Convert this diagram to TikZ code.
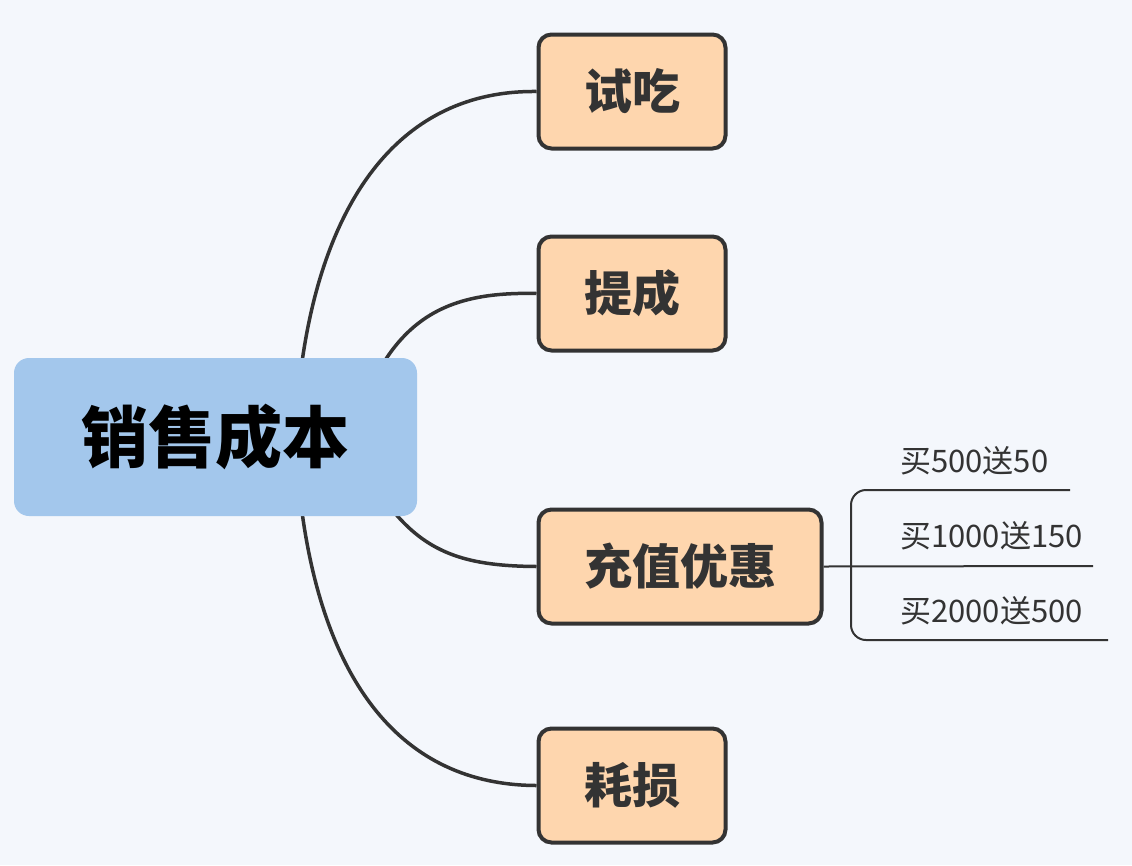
\documentclass[tikz,border=0pt]{standalone}
\usepackage{fontspec}
\usetikzlibrary{backgrounds}
\newfontfamily\cjk{Noto Sans CJK SC}
\definecolor{bg}{HTML}{F4F7FC}
\definecolor{rootfill}{HTML}{A3C7EC}
\definecolor{kidfill}{HTML}{FED6AE}
\definecolor{ink}{HTML}{333333}
\pgfdeclarelayer{canvas}
\pgfsetlayers{canvas,background,main}
\tikzset{
  rootbox/.style={fill=rootfill, rounded corners=15pt, minimum width=403pt, minimum height=158pt, inner sep=0pt, font=\cjk\bfseries\fontsize{67}{72}\selectfont, text=black},
  kidbox/.style={fill=kidfill, draw=ink, line width=4pt, rounded corners=13pt, minimum height=114pt, inner sep=0pt, font=\cjk\bfseries\fontsize{48}{54}\selectfont, text=ink},
  leaf/.style={anchor=west, inner sep=0pt, font=\cjk\fontsize{31}{35}\selectfont, text=ink},
  conn/.style={draw=ink, line width=3.5pt},
  subline/.style={draw=ink, line width=2pt}
}
\begin{document}
\begin{tikzpicture}[x=1pt,y=-1pt]
\begin{pgfonlayer}{canvas}
\fill[bg] (0,0) rectangle (1132,865);
\end{pgfonlayer}
\useasboundingbox (0,0) rectangle (1132,865);
\node[rootbox] (root) at (215.5,437) {销售成本};
\node[kidbox, minimum width=187pt] (a) at (632,91.5) {试吃};
\node[kidbox, minimum width=187pt] (b) at (632,293.5) {提成};
\node[kidbox, minimum width=283pt] (c) at (680,566.5) {充值优惠};
\node[kidbox, minimum width=187pt] (d) at (632,785.5) {耗损};
\coordinate (r1) at (302,362);
\coordinate (r2) at (384,362);
\coordinate (r3) at (394,512);
\coordinate (r4) at (302,512);
\begin{pgfonlayer}{background}
\draw[conn] (r1) .. controls (325,200) and (400,90) .. (a.west);
\draw[conn] (r2) .. controls (420,305) and (470,292) .. (b.west);
\draw[conn] (r3) .. controls (430,555) and (470,566) .. (c.west);
\draw[conn] (r4) .. controls (325,680) and (400,785) .. (d.west);
\end{pgfonlayer}
% sub-branch
\node[leaf] (l1) at (900,461) {买500送50};
\node[leaf] (l2) at (900,536) {买1000送150};
\node[leaf] (l3) at (900,611) {买2000送500};
\coordinate (e1) at (1070,490);
\coordinate (e2) at (1093,566);
\coordinate (e3) at (1108,640);
\draw[subline] (c.east) -- (e2);
\draw[subline, rounded corners=15pt] (e1) -- (851,490) -- (851,640) -- (e3);
\end{tikzpicture}
\end{document}
